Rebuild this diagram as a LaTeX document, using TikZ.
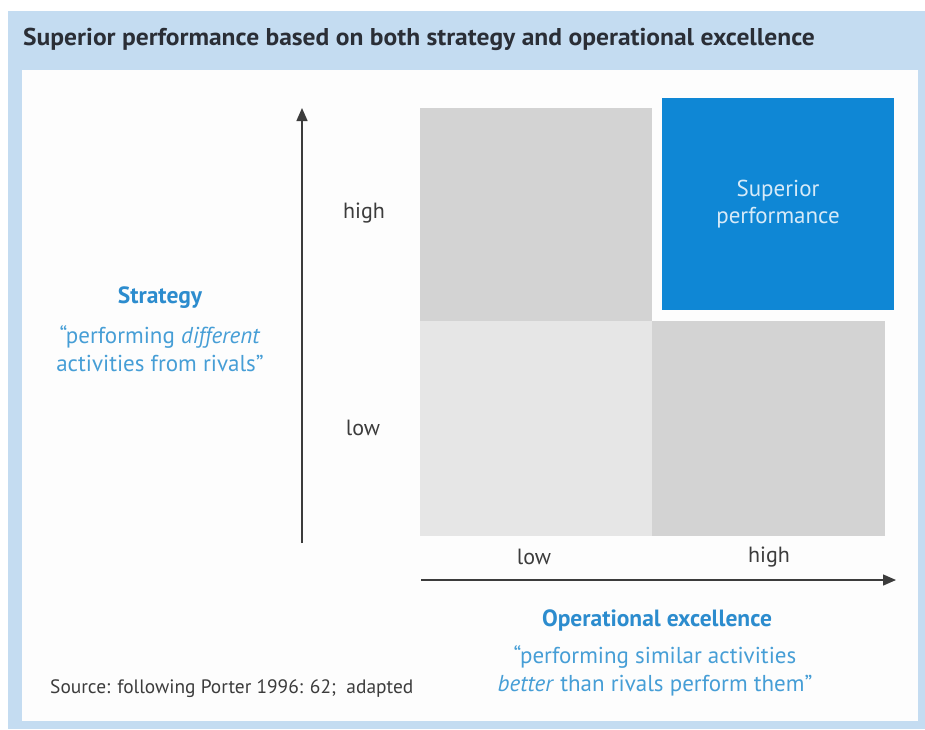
\documentclass[tikz,border=0pt]{standalone}
\usepackage{fontspec}
\setmainfont{PT Sans}
\usetikzlibrary{arrows.meta}

\definecolor{framebg}{RGB}{196,220,241}
\definecolor{panelbg}{RGB}{253,253,253}
\definecolor{cellmid}{RGB}{211,211,211}
\definecolor{celllow}{RGB}{230,230,230}
\definecolor{cellbest}{RGB}{15,135,213}
\definecolor{besttext}{RGB}{214,234,248}
\definecolor{headtext}{RGB}{42,46,54}
\definecolor{axistext}{RGB}{60,60,60}
\definecolor{keytext}{RGB}{44,140,206}
\definecolor{quotetext}{RGB}{70,158,214}

\tikzset{
  cell/.style={inner sep=0pt, minimum width=232pt, minimum height=213pt},
  axis/.style={line width=1.4pt, draw=axistext, -{Triangle[width=11pt,length=13pt]}},
  level/.style={text=axistext, font=\fontsize{22}{26}\selectfont},
  key/.style={text=keytext, font=\bfseries\fontsize{23.5}{27}\selectfont},
  quote/.style={text=quotetext, align=center, font=\fontsize{23}{28}\selectfont}
}

\begin{document}
\begin{tikzpicture}[x=1pt,y=-1pt]
  \useasboundingbox (0,0) rectangle (925,729);
  % frame and heading
  \fill[framebg] (8,11) rectangle (925,729);
  \fill[panelbg] (22,70) rectangle (918,721);
  \node[anchor=base west, inner sep=0pt, text=headtext,
        font=\bfseries\fontsize{24.3}{28}\selectfont\addfontfeature{FakeStretch=1.05}] (title) at (23,45)
       {Superior performance based on both strategy and operational excellence};

  % the four cells
  \node[cell, fill=cellmid] (hl) at (536,214.5) {};
  \node[cell, fill=celllow, minimum height=215pt] (ll) at (536,428.5) {};
  \node[cell, fill=cellmid, minimum width=233pt, minimum height=215pt] (lh) at (768.5,428.5) {};
  \node[cell, fill=cellbest, minimum height=212pt, text=besttext, align=center,
        font=\fontsize{23}{27}\selectfont] (hh) at (778,204) {Superior\\performance};

  % axes
  \coordinate (ybot) at (302,543);
  \coordinate (ytop) at (302,108);
  \coordinate (xleft) at (421,580);
  \coordinate (xright) at (896,580);
  \draw[axis] (ybot) -- (ytop);
  \draw[axis] (xleft) -- (xright);

  \node[level] (yhigh) at (364,213) {high};
  \node[level] (ylow) at (363,428) {low};
  \node[level] (xlow) at (534,557) {low};
  \node[level] (xhigh) at (769,557) {high};

  % axis captions
  \node[key] (strategy) at (160,298) {Strategy};
  \node[quote] (stratq) at (160,349) {“performing \textit{different}\\activities from rivals”};
  \node[key] (opex) at (657,620) {Operational excellence};
  \node[quote] (opexq) at (655,671) {“performing similar activities\\\textit{better} than rivals perform them”};

  \node[anchor=base west, inner sep=0pt, text=axistext,
        font=\fontsize{19.4}{22}\selectfont] (source) at (50,693)
       {Source: following Porter 1996: 62;\ \ adapted};
\end{tikzpicture}
\end{document}
